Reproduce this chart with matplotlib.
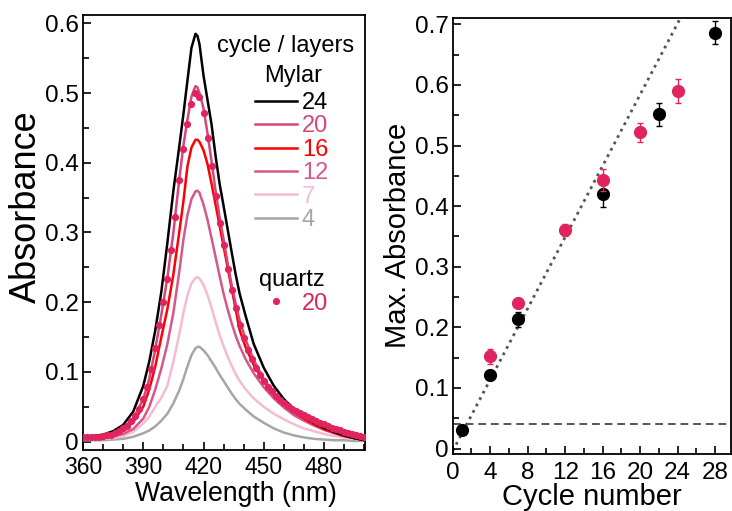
import matplotlib
matplotlib.use("Agg")
import matplotlib.pyplot as plt
from matplotlib.ticker import MultipleLocator, FuncFormatter
from matplotlib.lines import Line2D

plt.rcParams['font.family'] = ['Liberation Sans', 'DejaVu Sans']

# ---------------- data: left panel (spectra) ----------------
wavelength = [360, 365, 370, 375, 380, 385, 390, 393, 396, 399, 402, 405, 408, 410, 412, 414,
              416, 417, 418, 420, 422, 424, 426, 428, 430, 432, 434, 436, 438, 441, 445, 450,
              455, 460, 465, 470, 475, 480, 485, 490, 495, 500]

abs_24 = [.007, .008, .010, .015, .024, .043, .080, .115, .160, .215, .285, .360, .425, .470, .518, .565,
          .585, .582, .570, .525, .490, .455, .410, .370, .338, .305, .272, .240, .212, .180, .140, .106,
          .080, .061, .047, .036, .027, .020, .014, .009, .005, .002]
abs_20 = [.006, .007, .008, .012, .019, .033, .061, .090, .133, .182, .235, .300, .378, .425, .462, .495,
          .510, .508, .500, .478, .442, .402, .360, .322, .290, .256, .225, .198, .174, .146, .117, .090,
          .070, .056, .045, .036, .028, .021, .015, .010, .006, .003]
abs_16 = [.006, .007, .008, .011, .017, .028, .050, .075, .108, .150, .190, .240, .302, .345, .395, .422,
          .433, .433, .430, .418, .398, .370, .340, .310, .280, .250, .220, .190, .160, .135, .110, .086,
          .067, .053, .042, .033, .025, .018, .013, .008, .005, .002]
abs_12 = [.005, .005, .006, .008, .011, .018, .033, .050, .075, .105, .140, .185, .245, .290, .325, .348,
          .359, .360, .357, .340, .318, .292, .265, .238, .212, .190, .170, .152, .137, .118, .098, .078,
          .062, .049, .038, .030, .023, .017, .012, .008, .005, .003]
abs_7 = [.003, .003, .004, .005, .008, .014, .026, .036, .050, .063, .080, .115, .155, .185, .210, .227,
         .235, .236, .234, .225, .210, .192, .172, .153, .137, .122, .109, .097, .087, .075, .062, .050,
         .040, .032, .025, .019, .015, .011, .008, .006, .004, .002]
abs_4 = [.002, .002, .002, .003, .004, .007, .012, .016, .022, .030, .040, .055, .074, .090, .108, .124,
         .134, .136, .136, .131, .124, .115, .106, .096, .087, .078, .069, .061, .054, .046, .036, .027,
         .019, .013, .009, .006, .004, .003, .002, .002, .001, .001]

quartz_wl = list(range(360, 501, 2))
quartz_20 = [.006, .006, .006, .007, .007, .008, .009, .010, .012, .015, .019, .023, .029, .037, .047, .061,
             .079, .104, .135, .168, .200, .234, .275, .322, .375, .420, .455, .485, .500, .495, .472, .435,
             .395, .352, .314, .282, .248, .217, .192, .168, .148, .132, .118, .106, .096, .087, .079, .072,
             .066, .060, .055, .051, .047, .044, .041, .038, .035, .032, .030, .027, .025, .022, .020, .018,
             .016, .014, .012, .011, .009, .008, .006]

mylar_labels = ['24', '20', '16', '12', '7', '4']
mylar_colors = ['#000000', '#d8457c', '#ff0000', '#d6588a', '#f2bcd4', '#a6a6a6']
quartz_color = '#e0245e'

# ---------------- data: right panel ----------------
mylar_cycles = [1, 4, 7, 16, 22, 28]
mylar_max = [0.030, 0.122, 0.213, 0.420, 0.552, 0.686]
mylar_err = [0.005, 0.006, 0.012, 0.022, 0.019, 0.019]
quartz_cycles = [4, 7, 12, 16, 20, 24]
quartz_max = [0.152, 0.240, 0.360, 0.443, 0.522, 0.590]
quartz_err = [0.012, 0.007, 0.010, 0.018, 0.016, 0.020]
fit_x = [0, 25]
fit_y = [-0.004, 0.731]
baseline_level = 0.040

# ---------------- figure ----------------
fig = plt.figure(figsize=(7.32, 5.11), dpi=100)
L_bottom = 450
axL = fig.add_axes([83/732, 1 - L_bottom/511, (365 - 83)/732, (L_bottom - 15)/511])
axR = fig.add_axes([452.7/732, 1 - 454/511, (731 - 452.7)/732, (454 - 17.7)/511])

def fmt(v, pos):
    if abs(v) < 1e-9:
        return '0'
    return f'{v:.1f}'

tick_fs = 17.5
leg_fs = 17

series = [abs_24, abs_20, abs_16, abs_12, abs_7, abs_4]
for vals, col, lab in zip(series[::-1], mylar_colors[::-1], mylar_labels[::-1]):
    axL.plot(wavelength, vals, color=col, lw=1.8, zorder=4 if lab == '24' else 3)
axL.plot(quartz_wl, quartz_20, ls='none', marker='o', ms=5.2, color=quartz_color, mec='none', zorder=5)

axL.set_xlim(360, 500.4)
axL.set_ylim(-0.012, 0.612)
axL.xaxis.set_major_locator(MultipleLocator(30))
axL.xaxis.set_minor_locator(MultipleLocator(10))
axL.yaxis.set_major_locator(MultipleLocator(0.1))
axL.yaxis.set_minor_locator(MultipleLocator(0.05))
axL.yaxis.set_major_formatter(FuncFormatter(fmt))
axL.set_xlabel('Wavelength (nm)', fontsize=19.2)
axL.xaxis.set_label_coords(0.543, -(481.4 - L_bottom) / (L_bottom - 15))
axL.set_ylabel('Absorbance', fontsize=26)
axL.yaxis.set_label_coords(-0.138, 0.56)

# legend: Mylar spectra
handles = [Line2D([], [], color=c, lw=1.8) for c in mylar_colors]
leg1 = axL.legend(handles, mylar_labels, loc='upper left', bbox_to_anchor=(0.610, 0.823),
                  frameon=False, fontsize=leg_fs, labelcolor=mylar_colors,
                  handlelength=1.79, handletextpad=0.19, labelspacing=0.06,
                  borderpad=0, borderaxespad=0)
axL.add_artist(leg1)
qh = Line2D([], [], ls='none', marker='o', ms=5.2, color=quartz_color, mec='none')
leg2 = axL.legend([qh], ['20'], loc='upper left', bbox_to_anchor=(0.610, 0.362),
                  frameon=False, fontsize=leg_fs, labelcolor=[quartz_color],
                  handlelength=1.79, handletextpad=0.19, borderpad=0, borderaxespad=0)
axL.text(0.720, 0.929, 'cycle / layers', transform=axL.transAxes, ha='center', va='center',
         fontsize=leg_fs)
axL.text(0.745, 0.860, 'Mylar', transform=axL.transAxes, ha='center', va='center',
         fontsize=leg_fs)
axL.text(0.740, 0.391, 'quartz', transform=axL.transAxes, ha='center', va='center',
         fontsize=leg_fs)

# right panel
axR.plot(fit_x, fit_y, ls=(0, (1, 1.6)), color='#555555', lw=2.0, zorder=1)
axR.axhline(baseline_level, ls=(0, (4, 2.5)), color='#555555', lw=1.4, zorder=1)
axR.errorbar(mylar_cycles, mylar_max, yerr=mylar_err, fmt='o', ms=8.5, color='#000000',
             ecolor='#000000', elinewidth=1, capsize=2.5, capthick=1, zorder=3)
axR.errorbar(quartz_cycles, quartz_max, yerr=quartz_err, fmt='o', ms=8.5, color=quartz_color,
             ecolor=quartz_color, elinewidth=1, capsize=2.5, capthick=1, zorder=4)
axR.set_xlim(0, 29.7)
axR.set_ylim(-0.009, 0.711)
axR.xaxis.set_major_locator(MultipleLocator(4))
axR.xaxis.set_minor_locator(MultipleLocator(2))
axR.yaxis.set_major_locator(MultipleLocator(0.1))
axR.yaxis.set_minor_locator(MultipleLocator(0.05))
axR.yaxis.set_major_formatter(FuncFormatter(fmt))
axR.set_xlabel('Cycle number', fontsize=21, labelpad=-1)
axR.set_ylabel('Max. Absorbance', fontsize=21, labelpad=2)

for ax in (axL, axR):
    for s in ax.spines.values():
        s.set_linewidth(1.3)
    ax.tick_params(which='both', direction='in', top=False, right=False, width=1.2,
                   labelsize=tick_fs)
    ax.tick_params(axis='y', which='both', pad=3)
    ax.tick_params(which='major', length=6)
    ax.tick_params(which='minor', length=4)
axL.tick_params(axis='x', which='both', pad=4, labelsize=16.5)
axR.tick_params(axis='x', which='both', pad=6)

fig.savefig('out.png', dpi=100)
